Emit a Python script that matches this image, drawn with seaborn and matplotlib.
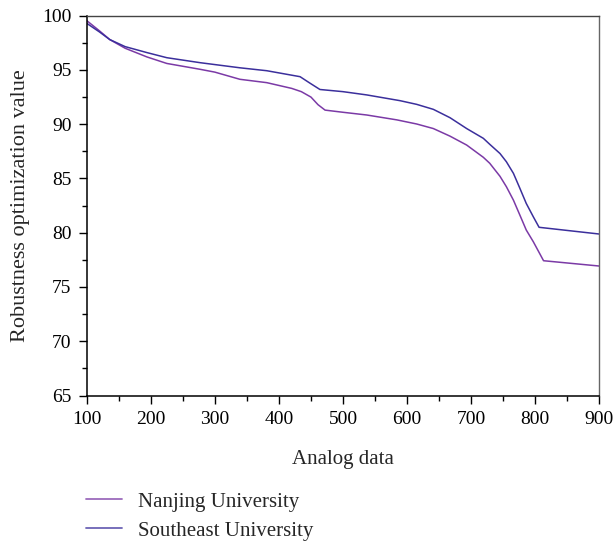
import matplotlib
matplotlib.use("Agg")
import matplotlib.pyplot as plt
from matplotlib.ticker import MultipleLocator
import seaborn as sns
import pandas as pd

# values
nanjing_x = [100, 120, 136, 160, 194, 225, 277, 300, 339, 381, 420, 435, 450,
             461, 472, 500, 537, 584, 615, 641, 667, 693, 719, 729, 745, 755,
             766, 776, 786, 797, 813, 900]
nanjing_y = [99.55, 98.6, 97.8, 97.0, 96.2, 95.6, 95.06, 94.8, 94.14, 93.83,
             93.3, 93.0, 92.5, 91.8, 91.3, 91.1, 90.85, 90.4, 90.02, 89.6,
             88.9, 88.08, 86.95, 86.4, 85.2, 84.24, 83.0, 81.63, 80.25, 79.17,
             77.42, 76.93]

southeast_x = [100, 120, 136, 160, 194, 225, 277, 339, 381, 433, 448, 464, 500,
               537, 589, 615, 641, 667, 693, 719, 729, 745, 755, 766, 776, 786,
               797, 806, 900]
southeast_y = [99.3, 98.5, 97.8, 97.15, 96.6, 96.13, 95.67, 95.2, 94.93, 94.38,
               93.8, 93.2, 93.0, 92.7, 92.17, 91.83, 91.37, 90.6, 89.6, 88.7,
               88.15, 87.3, 86.54, 85.47, 84.1, 82.7, 81.47, 80.5, 79.88]

series_names = ["Nanjing University", "Southeast University"]
colors = ["#7B3AA6", "#3B2F9C"]

df = pd.concat([
    pd.DataFrame({"x": nanjing_x, "y": nanjing_y, "school": series_names[0]}),
    pd.DataFrame({"x": southeast_x, "y": southeast_y, "school": series_names[1]}),
])

sns.set_style("ticks")
plt.rcParams["font.family"] = ["Liberation Serif", "DejaVu Serif"]

fig = plt.figure(figsize=(6.15, 5.44), dpi=100)
ax = fig.add_axes([86.7 / 615, 1 - 395.5 / 544, (599.3 - 86.7) / 615, (395.5 - 15.7) / 544])

sns.lineplot(data=df, x="x", y="y", hue="school", hue_order=series_names,
             palette=colors, linewidth=1.1, ax=ax, legend=False, sort=False)

ax.set_xlim(100, 900)
ax.set_ylim(65, 100)
ax.xaxis.set_major_locator(MultipleLocator(100))
ax.xaxis.set_minor_locator(MultipleLocator(50))
ax.yaxis.set_major_locator(MultipleLocator(5))
ax.yaxis.set_minor_locator(MultipleLocator(2.5))
ax.tick_params(which="both", direction="out", colors="black", labelsize=14,
               top=False, right=False, width=1)
ax.tick_params(which="major", length=6, pad=5)
ax.tick_params(which="minor", length=3.5)

for side in ["left", "bottom"]:
    ax.spines[side].set_color("black")
    ax.spines[side].set_linewidth(1.1)
ax.spines["top"].set_color("#444444")
ax.spines["right"].set_color("#666666")
for side in ["top", "right"]:
    ax.spines[side].set_visible(True)
    ax.spines[side].set_linewidth(1.0)

ax.set_xlabel("Analog data", fontsize=15, labelpad=16)
ax.set_ylabel("Robustness optimization value", fontsize=16, labelpad=9)

handles = [plt.Line2D([], [], color=c, linewidth=1.3, alpha=0.75) for c in colors]
fig.legend(handles, series_names, loc="upper left",
           bbox_to_anchor=(86 / 615, 1 - 492 / 544), frameon=False,
           fontsize=15, handlelength=1.75, handletextpad=0.75,
           labelspacing=0.45, borderpad=0, borderaxespad=0)

fig.savefig("out.png", dpi=100)
